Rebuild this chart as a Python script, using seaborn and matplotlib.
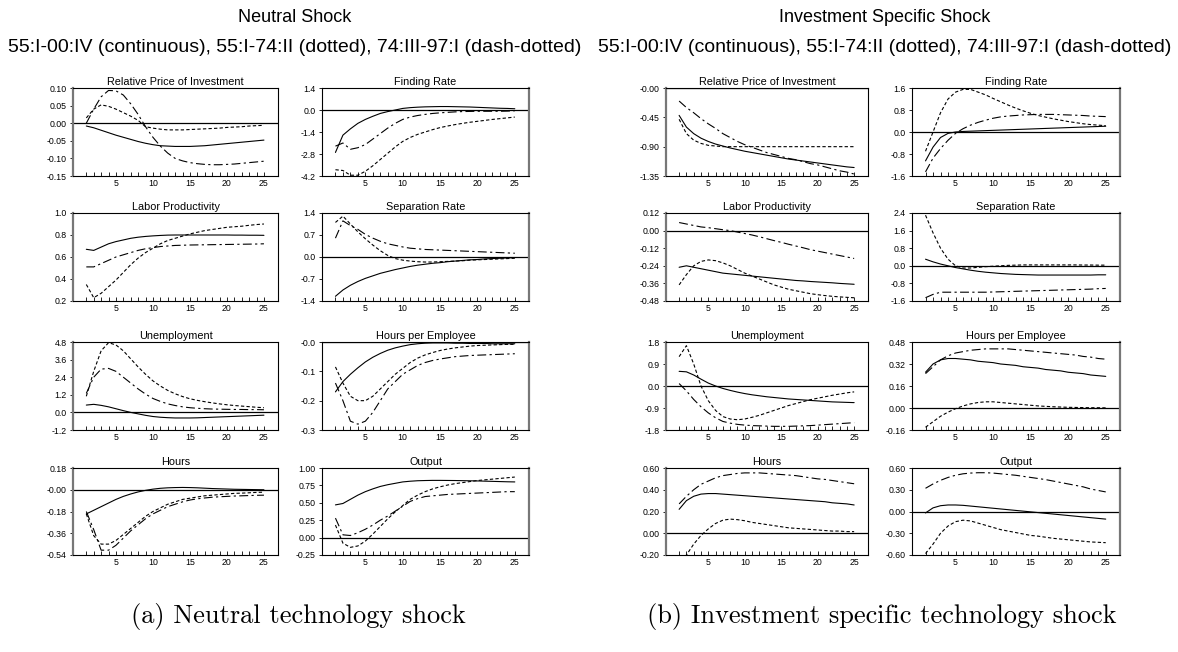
import pandas as pd
import seaborn as sns
from matplotlib import pyplot as plt

sns.set_style("ticks")
plt.rcParams['font.family'] = ['Liberation Sans', 'DejaVu Sans']
plt.rcParams['text.color'] = 'black'
plt.rcParams['xtick.color'] = 'black'
plt.rcParams['ytick.color'] = 'black'

periods = list(range(1, 26))
samples = ["continuous", "dotted", "dash-dotted"]
panel_titles = ["Neutral Shock", "Investment Specific Shock"]
subtitle = "55:I-00:IV (continuous), 55:I-74:II (dotted), 74:III-97:I (dash-dotted)"
captions = ["(a) Neutral technology shock", "(b) Investment specific technology shock"]
var_names = ["Relative Price of Investment", "Finding Rate", "Labor Productivity", "Separation Rate",
             "Unemployment", "Hours per Employee", "Hours", "Output"]

# ---- neutral shock ----
neu_price_c = [-0.008, -0.013, -0.02, -0.027, -0.034, -0.04, -0.046, -0.052, -0.057, -0.061, -0.064, -0.065, -0.066,
               -0.066, -0.066, -0.065, -0.064, -0.062, -0.06, -0.058, -0.056, -0.054, -0.052, -0.05, -0.048]
neu_price_d = [0.015, 0.04, 0.052, 0.048, 0.04, 0.03, 0.02, 0.008, -0.01, -0.014, -0.017, -0.019, -0.019, -0.019,
               -0.018, -0.017, -0.016, -0.015, -0.014, -0.012, -0.011, -0.01, -0.008, -0.007, -0.006]
neu_price_dd = [0.0, 0.04, 0.075, 0.093, 0.092, 0.08, 0.055, 0.025, -0.01, -0.04, -0.065, -0.085, -0.1, -0.107,
                -0.112, -0.115, -0.117, -0.118, -0.118, -0.117, -0.116, -0.114, -0.112, -0.11, -0.108]

neu_find_c = [-2.7, -1.6, -1.2, -0.85, -0.6, -0.4, -0.22, -0.1, 0.0, 0.1, 0.15, 0.18, 0.2, 0.21, 0.22, 0.22, 0.21,
              0.2, 0.19, 0.17, 0.15, 0.13, 0.11, 0.1, 0.08]
neu_find_d = [-3.8, -3.85, -4.15, -4.15, -3.9, -3.55, -3.15, -2.75, -2.35, -2.0, -1.75, -1.55, -1.4, -1.25, -1.12,
              -1.02, -0.93, -0.85, -0.78, -0.72, -0.66, -0.6, -0.55, -0.5, -0.45]
neu_find_dd = [-2.3, -2.1, -2.5, -2.4, -2.2, -1.85, -1.5, -1.15, -0.85, -0.6, -0.45, -0.35, -0.28, -0.22, -0.18,
               -0.15, -0.12, -0.1, -0.09, -0.08, -0.08, -0.08, -0.08, -0.07, -0.05]

neu_prod_c = [0.67, 0.66, 0.69, 0.72, 0.74, 0.755, 0.77, 0.78, 0.787, 0.792, 0.796, 0.799, 0.8, 0.8, 0.8, 0.8, 0.8,
              0.8, 0.8, 0.8, 0.799, 0.799, 0.798, 0.798, 0.797]
neu_prod_d = [0.35, 0.23, 0.27, 0.33, 0.39, 0.46, 0.53, 0.59, 0.64, 0.68, 0.72, 0.75, 0.77, 0.79, 0.81, 0.825, 0.84,
              0.85, 0.86, 0.87, 0.875, 0.88, 0.888, 0.895, 0.9]
neu_prod_dd = [0.51, 0.51, 0.54, 0.57, 0.6, 0.62, 0.64, 0.66, 0.675, 0.685, 0.695, 0.7, 0.705, 0.707, 0.709, 0.71,
               0.711, 0.712, 0.713, 0.714, 0.715, 0.716, 0.717, 0.718, 0.72]

neu_sep_c = [-1.25, -1.05, -0.9, -0.78, -0.68, -0.6, -0.52, -0.46, -0.4, -0.35, -0.3, -0.26, -0.23, -0.2, -0.18,
             -0.15, -0.13, -0.11, -0.09, -0.08, -0.06, -0.05, -0.04, -0.03, -0.02]
neu_sep_d = [1.1, 1.3, 1.05, 0.8, 0.58, 0.38, 0.2, 0.05, -0.05, -0.1, -0.13, -0.15, -0.16, -0.16, -0.15, -0.14,
             -0.13, -0.12, -0.1, -0.09, -0.08, -0.07, -0.06, -0.05, -0.04]
neu_sep_dd = [0.6, 1.15, 1.0, 0.88, 0.72, 0.6, 0.5, 0.42, 0.37, 0.32, 0.28, 0.26, 0.24, 0.23, 0.22, 0.21, 0.2, 0.19,
              0.18, 0.17, 0.16, 0.15, 0.14, 0.13, 0.12]

neu_unemp_c = [0.5, 0.55, 0.48, 0.38, 0.25, 0.12, 0.0, -0.1, -0.2, -0.28, -0.33, -0.36, -0.38, -0.38, -0.38, -0.37,
               -0.35, -0.33, -0.31, -0.29, -0.27, -0.25, -0.23, -0.21, -0.19]
neu_unemp_d = [1.1, 2.8, 4.2, 4.75, 4.6, 4.2, 3.65, 3.1, 2.6, 2.15, 1.8, 1.5, 1.27, 1.08, 0.93, 0.82, 0.73, 0.65,
               0.58, 0.52, 0.47, 0.43, 0.39, 0.35, 0.32]
neu_unemp_dd = [1.3, 2.4, 2.95, 3.0, 2.8, 2.4, 2.0, 1.6, 1.25, 0.95, 0.75, 0.58, 0.47, 0.38, 0.32, 0.28, 0.25, 0.23,
                0.22, 0.21, 0.2, 0.2, 0.19, 0.19, 0.18]

neu_hpe_c = [-0.17, -0.135, -0.11, -0.088, -0.068, -0.052, -0.039, -0.028, -0.02, -0.014, -0.009, -0.006, -0.004,
             -0.003, -0.003, -0.003, -0.004, -0.004, -0.005, -0.005, -0.005, -0.006, -0.006, -0.006, -0.006]
neu_hpe_d = [-0.085, -0.14, -0.185, -0.2, -0.2, -0.185, -0.16, -0.135, -0.11, -0.09, -0.07, -0.055, -0.044, -0.036,
             -0.029, -0.024, -0.02, -0.017, -0.014, -0.012, -0.011, -0.01, -0.009, -0.008, -0.008]
neu_hpe_dd = [-0.14, -0.2, -0.27, -0.28, -0.27, -0.24, -0.2, -0.16, -0.135, -0.11, -0.095, -0.08, -0.07, -0.063,
              -0.058, -0.054, -0.05, -0.048, -0.046, -0.045, -0.044, -0.043, -0.042, -0.041, -0.04]

neu_hours_c = [-0.2, -0.17, -0.14, -0.11, -0.08, -0.055, -0.035, -0.018, -0.005, 0.005, 0.012, 0.016, 0.018, 0.019,
               0.018, 0.016, 0.013, 0.01, 0.008, 0.006, 0.004, 0.003, 0.002, 0.001, 0.0]
neu_hours_d = [-0.2, -0.38, -0.45, -0.45, -0.42, -0.37, -0.32, -0.27, -0.22, -0.18, -0.15, -0.12, -0.1, -0.08,
               -0.07, -0.06, -0.05, -0.045, -0.04, -0.035, -0.03, -0.028, -0.025, -0.022, -0.02]
neu_hours_dd = [-0.18, -0.33, -0.5, -0.5, -0.46, -0.4, -0.34, -0.29, -0.24, -0.2, -0.17, -0.14, -0.12, -0.1, -0.085,
                -0.075, -0.068, -0.062, -0.058, -0.055, -0.052, -0.05, -0.048, -0.046, -0.045]

neu_out_c = [0.47, 0.49, 0.55, 0.61, 0.66, 0.7, 0.735, 0.76, 0.78, 0.8, 0.81, 0.817, 0.82, 0.822, 0.822, 0.821,
             0.82, 0.818, 0.816, 0.814, 0.811, 0.808, 0.805, 0.802, 0.8]
neu_out_d = [0.18, -0.08, -0.14, -0.12, -0.05, 0.05, 0.16, 0.27, 0.37, 0.46, 0.55, 0.61, 0.66, 0.7, 0.73, 0.755,
             0.775, 0.79, 0.805, 0.82, 0.83, 0.84, 0.85, 0.86, 0.87]
neu_out_dd = [0.28, 0.04, 0.03, 0.07, 0.12, 0.18, 0.25, 0.31, 0.38, 0.45, 0.52, 0.56, 0.59, 0.6, 0.61, 0.62, 0.625,
              0.63, 0.635, 0.64, 0.645, 0.65, 0.655, 0.66, 0.66]

# ---- investment specific shock ----
inv_price_c = [-0.42, -0.6, -0.7, -0.77, -0.82, -0.86, -0.89, -0.92, -0.945, -0.97, -0.99, -1.01, -1.03, -1.05,
               -1.07, -1.09, -1.105, -1.12, -1.135, -1.15, -1.165, -1.18, -1.195, -1.21, -1.22]
inv_price_d = [-0.48, -0.7, -0.8, -0.85, -0.88, -0.89, -0.9, -0.9, -0.9, -0.9, -0.9, -0.9, -0.9, -0.9, -0.9, -0.9,
               -0.9, -0.9, -0.9, -0.9, -0.9, -0.9, -0.9, -0.9, -0.9]
inv_price_dd = [-0.2, -0.3, -0.38, -0.47, -0.55, -0.62, -0.7, -0.76, -0.82, -0.87, -0.91, -0.95, -0.99, -1.02, -1.05,
                -1.08, -1.1, -1.13, -1.16, -1.18, -1.21, -1.24, -1.27, -1.29, -1.32]

inv_find_c = [-1.05, -0.55, -0.2, -0.05, 0.0, 0.02, 0.03, 0.04, 0.05, 0.06, 0.07, 0.08, 0.09, 0.1, 0.11, 0.12, 0.13,
              0.14, 0.15, 0.16, 0.17, 0.18, 0.19, 0.2, 0.21]
inv_find_d = [-0.7, 0.0, 0.7, 1.2, 1.45, 1.55, 1.55, 1.45, 1.35, 1.22, 1.1, 0.98, 0.87, 0.77, 0.68, 0.6, 0.54, 0.48,
              0.43, 0.38, 0.34, 0.3, 0.27, 0.25, 0.23]
inv_find_dd = [-1.45, -0.95, -0.6, -0.3, -0.05, 0.12, 0.25, 0.35, 0.43, 0.5, 0.55, 0.58, 0.6, 0.62, 0.63, 0.64, 0.64,
               0.64, 0.63, 0.62, 0.61, 0.6, 0.58, 0.57, 0.56]

inv_prod_c = [-0.25, -0.24, -0.25, -0.26, -0.27, -0.28, -0.29, -0.295, -0.3, -0.305, -0.31, -0.315, -0.32, -0.325,
              -0.33, -0.335, -0.34, -0.343, -0.347, -0.35, -0.353, -0.356, -0.36, -0.363, -0.366]
inv_prod_d = [-0.37, -0.3, -0.24, -0.21, -0.2, -0.205, -0.22, -0.24, -0.265, -0.29, -0.31, -0.33, -0.35, -0.37,
              -0.385, -0.4, -0.41, -0.42, -0.43, -0.437, -0.443, -0.448, -0.452, -0.455, -0.458]
inv_prod_dd = [0.055, 0.045, 0.035, 0.025, 0.02, 0.013, 0.006, 0.0, -0.01, -0.02, -0.03, -0.042, -0.055, -0.068,
               -0.08, -0.093, -0.105, -0.117, -0.13, -0.14, -0.15, -0.16, -0.17, -0.18, -0.19]

inv_sep_c = [0.3, 0.18, 0.08, 0.0, -0.08, -0.14, -0.2, -0.25, -0.29, -0.32, -0.35, -0.37, -0.39, -0.4, -0.41, -0.42,
             -0.42, -0.42, -0.42, -0.42, -0.42, -0.42, -0.42, -0.41, -0.41]
inv_sep_d = [2.3, 1.5, 0.8, 0.3, 0.0, -0.1, -0.1, -0.07, -0.04, -0.02, 0.0, 0.02, 0.03, 0.04, 0.04, 0.04, 0.04,
             0.04, 0.04, 0.04, 0.04, 0.035, 0.035, 0.03, 0.03]
inv_sep_dd = [-1.45, -1.3, -1.2, -1.2, -1.2, -1.2, -1.2, -1.2, -1.2, -1.19, -1.18, -1.17, -1.16, -1.15, -1.14,
              -1.13, -1.12, -1.11, -1.1, -1.09, -1.08, -1.07, -1.06, -1.04, -1.03]

inv_unemp_c = [0.6, 0.58, 0.45, 0.28, 0.12, 0.0, -0.1, -0.18, -0.25, -0.31, -0.36, -0.4, -0.44, -0.47, -0.5, -0.53,
               -0.55, -0.57, -0.59, -0.61, -0.63, -0.65, -0.66, -0.67, -0.68]
inv_unemp_d = [1.2, 1.65, 0.9, 0.0, -0.6, -1.0, -1.25, -1.35, -1.38, -1.35, -1.28, -1.2, -1.1, -1.0, -0.9, -0.8,
               -0.72, -0.64, -0.56, -0.5, -0.44, -0.38, -0.33, -0.28, -0.24]
inv_unemp_dd = [0.1, -0.2, -0.55, -0.85, -1.1, -1.3, -1.45, -1.52, -1.57, -1.6, -1.62, -1.63, -1.64, -1.65, -1.65,
                -1.65, -1.64, -1.63, -1.62, -1.6, -1.58, -1.56, -1.54, -1.52, -1.5]

inv_hpe_c = [0.26, 0.32, 0.35, 0.36, 0.36, 0.355, 0.35, 0.34, 0.335, 0.33, 0.32, 0.315, 0.31, 0.3, 0.295, 0.29, 0.28,
             0.275, 0.27, 0.26, 0.255, 0.25, 0.24, 0.235, 0.23]
inv_hpe_d = [-0.14, -0.1, -0.06, -0.03, -0.005, 0.015, 0.03, 0.04, 0.045, 0.045, 0.04, 0.035, 0.03, 0.025, 0.02,
             0.015, 0.012, 0.009, 0.007, 0.005, 0.004, 0.003, 0.002, 0.002, 0.001]
inv_hpe_dd = [0.25, 0.3, 0.35, 0.38, 0.4, 0.41, 0.42, 0.425, 0.43, 0.43, 0.43, 0.43, 0.425, 0.42, 0.415, 0.41, 0.405,
              0.4, 0.395, 0.39, 0.385, 0.375, 0.37, 0.36, 0.355]

inv_hours_c = [0.22, 0.3, 0.34, 0.36, 0.365, 0.365, 0.36, 0.355, 0.35, 0.345, 0.34, 0.335, 0.33, 0.325, 0.32, 0.315,
               0.31, 0.305, 0.3, 0.295, 0.29, 0.28, 0.275, 0.27, 0.26]
inv_hours_d = [-0.3, -0.2, -0.1, -0.02, 0.04, 0.09, 0.12, 0.13, 0.125, 0.115, 0.1, 0.09, 0.08, 0.07, 0.06, 0.05,
               0.045, 0.04, 0.035, 0.03, 0.025, 0.02, 0.02, 0.015, 0.015]
inv_hours_dd = [0.27, 0.34, 0.4, 0.45, 0.48, 0.51, 0.53, 0.54, 0.55, 0.555, 0.555, 0.555, 0.55, 0.545, 0.54, 0.535,
                0.53, 0.52, 0.51, 0.5, 0.495, 0.485, 0.475, 0.465, 0.455]

inv_out_c = [-0.02, 0.05, 0.08, 0.09, 0.09, 0.085, 0.075, 0.065, 0.055, 0.045, 0.035, 0.025, 0.015, 0.005, -0.005,
             -0.015, -0.025, -0.035, -0.045, -0.055, -0.065, -0.075, -0.085, -0.095, -0.105]
inv_out_d = [-0.58, -0.45, -0.3, -0.2, -0.14, -0.12, -0.13, -0.16, -0.19, -0.22, -0.25, -0.27, -0.29, -0.31, -0.33,
             -0.34, -0.355, -0.37, -0.38, -0.39, -0.4, -0.41, -0.42, -0.425, -0.43]
inv_out_dd = [0.32, 0.38, 0.43, 0.47, 0.5, 0.52, 0.53, 0.535, 0.535, 0.53, 0.52, 0.51, 0.5, 0.485, 0.47, 0.455, 0.44,
              0.42, 0.4, 0.38, 0.36, 0.34, 0.31, 0.29, 0.27]

# y tick labels as printed in the original figure
neu_yticks = [
    ["0.10", "0.05", "0.00", "-0.05", "-0.10", "-0.15"],
    ["1.4", "0.0", "-1.4", "-2.8", "-4.2"],
    ["1.0", "0.8", "0.6", "0.4", "0.2"],
    ["1.4", "0.7", "0.0", "-0.7", "-1.4"],
    ["4.8", "3.6", "2.4", "1.2", "0.0", "-1.2"],
    ["-0.0", "-0.1", "-0.2", "-0.3"],
    ["0.18", "-0.00", "-0.18", "-0.36", "-0.54"],
    ["1.00", "0.75", "0.50", "0.25", "0.00", "-0.25"],
]
inv_yticks = [
    ["-0.00", "-0.45", "-0.90", "-1.35"],
    ["1.6", "0.8", "0.0", "-0.8", "-1.6"],
    ["0.12", "0.00", "-0.12", "-0.24", "-0.36", "-0.48"],
    ["2.4", "1.6", "0.8", "0.0", "-0.8", "-1.6"],
    ["1.8", "0.9", "0.0", "-0.9", "-1.8"],
    ["0.48", "0.32", "0.16", "0.00", "-0.16"],
    ["0.60", "0.40", "0.20", "0.00", "-0.20"],
    ["0.60", "0.30", "0.00", "-0.30", "-0.60"],
]

neu_series = [(neu_price_c, neu_price_d, neu_price_dd), (neu_find_c, neu_find_d, neu_find_dd),
              (neu_prod_c, neu_prod_d, neu_prod_dd), (neu_sep_c, neu_sep_d, neu_sep_dd),
              (neu_unemp_c, neu_unemp_d, neu_unemp_dd), (neu_hpe_c, neu_hpe_d, neu_hpe_dd),
              (neu_hours_c, neu_hours_d, neu_hours_dd), (neu_out_c, neu_out_d, neu_out_dd)]
inv_series = [(inv_price_c, inv_price_d, inv_price_dd), (inv_find_c, inv_find_d, inv_find_dd),
              (inv_prod_c, inv_prod_d, inv_prod_dd), (inv_sep_c, inv_sep_d, inv_sep_dd),
              (inv_unemp_c, inv_unemp_d, inv_unemp_dd), (inv_hpe_c, inv_hpe_d, inv_hpe_dd),
              (inv_hours_c, inv_hours_d, inv_hours_dd), (inv_out_c, inv_out_d, inv_out_dd)]

line_dashes = {"continuous": "", "dotted": (3, 2), "dash-dotted": (8, 3, 2, 3)}

W, H = 1178, 652
fig = plt.figure(figsize=(W / 100, H / 100), dpi=100)

col_px = [[(73, 278), (322, 529)], [(666, 868), (912, 1120)]]
row_px = [(88, 176), (213, 301), (342, 430), (468, 555)]
panel_cx = [295, 885]


def draw_panel(p, series, yticks):
    for k in range(8):
        r, c = divmod(k, 2)
        x0, x1 = col_px[p][c]
        y0, y1 = row_px[r]
        ax = fig.add_axes([x0 / W, 1 - y1 / H, (x1 - x0) / W, (y1 - y0) / H])
        frames = []
        for name, vals in zip(samples, series[k]):
            frames.append(pd.DataFrame({"t": periods, "v": vals, "sample": name}))
        df = pd.concat(frames)
        ax.axhline(0, color="black", lw=0.9, zorder=1)
        sns.lineplot(data=df, x="t", y="v", style="sample", dashes=line_dashes, color="black",
                     lw=0.8, legend=False, ax=ax)
        labels = yticks[k]
        ticks = [float(s) for s in labels]
        ax.set_ylim(min(ticks), max(ticks))
        ax.set_yticks(ticks)
        ax.set_yticklabels(labels)
        ax.set_xlim(-0.8, 26.9)
        ax.set_xticks([5, 10, 15, 20, 25])
        ax.set_xticks(periods, minor=True)
        ax.set_xlabel("")
        ax.set_ylabel("")
        ax.set_title(var_names[k], fontsize=7.8, pad=2)
        ax.tick_params(axis="x", which="both", direction="in", length=3, width=0.6, labelsize=6.3, pad=2)
        ax.tick_params(axis="y", direction="out", length=2.5, width=0.6, labelsize=6.3, pad=2)
        for s in ax.spines.values():
            s.set_linewidth(0.8)
            s.set_color("black")
        side = "left" if c == 0 else "right"
        ax.spines[side].set_color("#777777")
        ax.spines[side].set_linewidth(1.6)

    fig.text(panel_cx[p] / W, 1 - 18 / H, panel_titles[p], ha="center", va="center", fontsize=13)
    fig.text(panel_cx[p] / W, 1 - 47 / H, subtitle, ha="center", va="center", fontsize=14)
    fig.text(panel_cx[p] / W + 0.003 * (1 - 2 * p), 1 - 617 / H, captions[p], ha="center", va="center",
             fontsize=19, family="cmr10")


draw_panel(0, neu_series, neu_yticks)
draw_panel(1, inv_series, inv_yticks)

plt.savefig("out.png", dpi=100)
